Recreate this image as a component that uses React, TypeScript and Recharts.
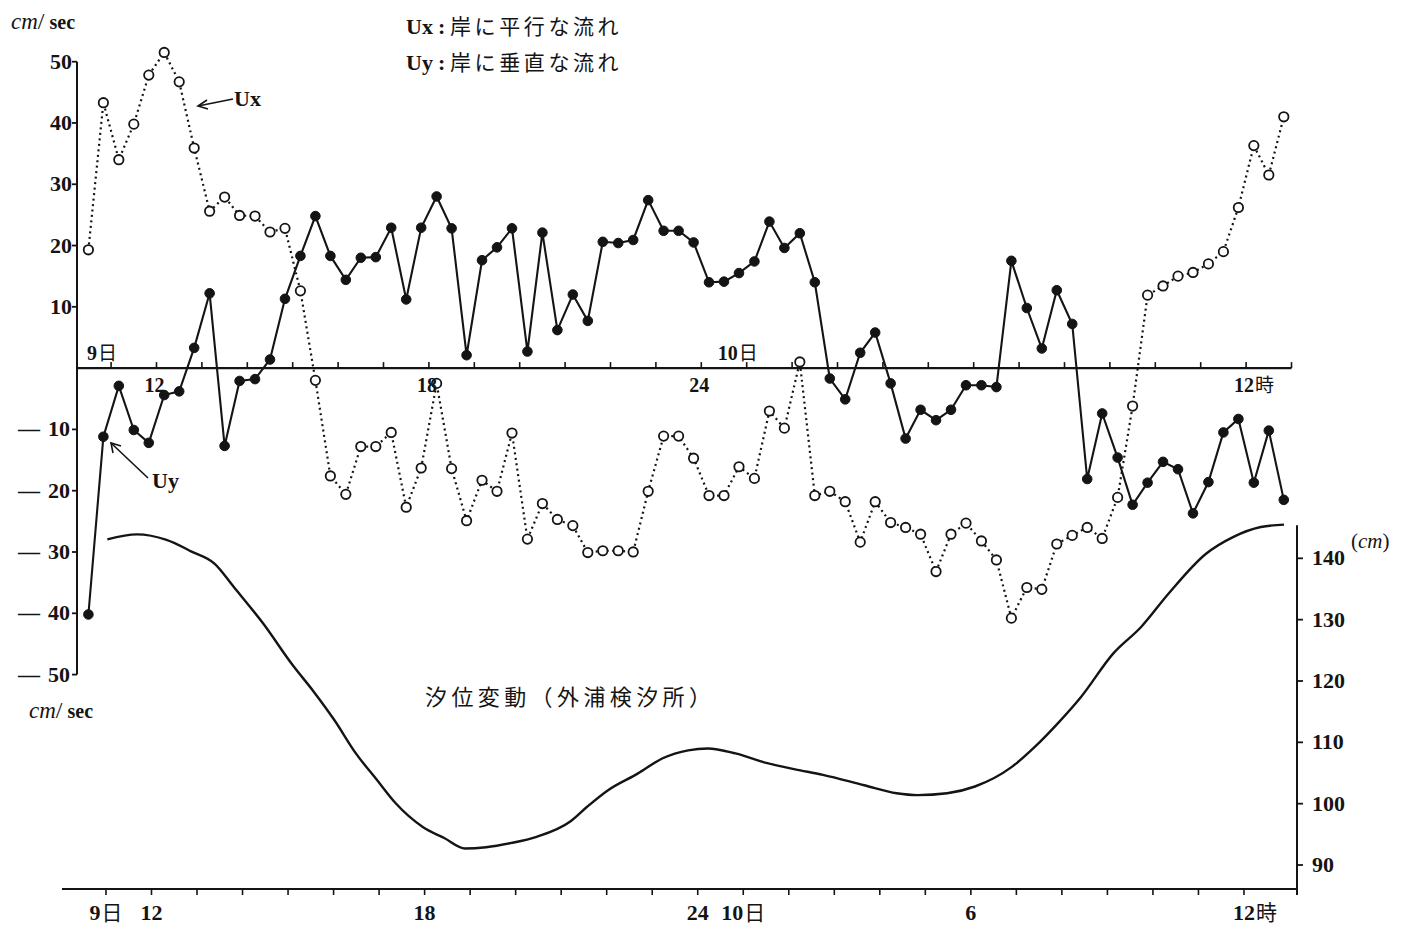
import React from 'react';
import { ComposedChart, LineChart, Line, XAxis, YAxis, ReferenceLine } from 'recharts';

// ---- data ----
const velHours = [10.5, 10.83, 11.17, 11.5, 11.83, 12.17, 12.5, 12.83, 13.17, 13.5, 13.83, 14.17, 14.5, 14.83, 15.17, 15.5, 15.83, 16.17, 16.5, 16.83, 17.17, 17.5, 17.83, 18.17, 18.5, 18.83, 19.17, 19.5, 19.83, 20.17, 20.5, 20.83, 21.17, 21.5, 21.83, 22.17, 22.5, 22.83, 23.17, 23.5, 23.83, 24.17, 24.5, 24.83, 25.17, 25.5, 25.83, 26.17, 26.5, 26.83, 27.17, 27.5, 27.83, 28.17, 28.5, 28.83, 29.17, 29.5, 29.83, 30.17, 30.5, 30.83, 31.17, 31.5, 31.83, 32.17, 32.5, 32.83, 33.17, 33.5, 33.83, 34.17, 34.5, 34.83, 35.17, 35.5, 35.83, 36.17, 36.5, 36.83];

const uxValues = [19.3, 43.3, 34.0, 39.8, 47.8, 51.5, 46.7, 35.9, 25.6, 27.9, 24.9, 24.8, 22.2, 22.8, 12.6, -2.0, -17.6, -20.6, -12.8, -12.8, -10.5, -22.7, -16.3, -2.5, -16.4, -24.9, -18.3, -20.1, -10.6, -27.9, -22.1, -24.7, -25.7, -30.1, -29.8, -29.8, -30.0, -20.1, -11.1, -11.1, -14.7, -20.8, -20.8, -16.1, -18.0, -7.0, -9.8, 1.0, -20.8, -20.1, -21.8, -28.4, -21.8, -25.2, -26.0, -27.1, -33.2, -27.1, -25.3, -28.2, -31.3, -40.8, -35.8, -36.1, -28.7, -27.3, -26.0, -27.8, -21.1, -6.2, 11.9, 13.4, 15.0, 15.6, 17.0, 19.0, 26.2, 36.3, 31.5, 41.0];

const uyValues = [-40.2, -11.2, -2.9, -10.1, -12.2, -4.4, -3.8, 3.3, 12.2, -12.7, -2.1, -1.8, 1.4, 11.3, 18.3, 24.8, 18.3, 14.4, 18.0, 18.1, 22.9, 11.2, 22.9, 28.0, 22.8, 2.1, 17.6, 19.7, 22.8, 2.7, 22.1, 6.2, 12.0, 7.7, 20.6, 20.4, 20.9, 27.4, 22.4, 22.4, 20.5, 14.0, 14.1, 15.5, 17.4, 23.9, 19.6, 22.0, 14.0, -1.7, -5.1, 2.5, 5.8, -2.5, -11.5, -6.8, -8.5, -6.8, -2.8, -2.8, -3.1, 17.5, 9.8, 3.2, 12.7, 7.2, -18.1, -7.4, -14.6, -22.3, -18.7, -15.3, -16.5, -23.7, -18.6, -10.5, -8.3, -18.7, -10.2, -21.5];

const tideHours = [11.03, 11.68, 12.33, 12.88, 13.39, 13.8, 14.45, 15.1, 15.56, 16.02, 16.49, 16.95, 17.36, 17.96, 18.43, 18.89, 19.35, 19.91, 20.46, 21.2, 21.57, 22.03, 22.68, 23.23, 23.79, 24.22, 24.83, 25.53, 26.14, 26.75, 27.66, 28.37, 28.83, 29.48, 30.09, 30.9, 31.41, 31.91, 32.42, 33.13, 33.74, 34.35, 35.16, 35.77, 36.37, 36.88];
const tideLevels = [143.1, 143.9, 143.0, 141.1, 139.1, 135.4, 129.4, 122.6, 118.3, 113.6, 108.2, 103.9, 100.1, 96.2, 94.4, 92.7, 92.9, 93.6, 94.6, 97.1, 99.5, 102.2, 104.9, 107.4, 108.7, 109.0, 108.2, 106.6, 105.6, 104.7, 103.0, 101.7, 101.4, 101.7, 102.8, 106.0, 109.3, 113.1, 117.4, 124.5, 128.8, 134.3, 140.7, 143.5, 145.1, 145.5];

const upperVelTicks = [10, 20, 30, 40, 50];
const lowerVelTicks = [-10, -20, -30, -40, -50];
const tideTicks = [90, 100, 110, 120, 130, 140];
const hourTicks = [11, 12, 13, 14, 15, 16, 17, 18, 19, 20, 21, 22, 23, 24, 25, 26, 27, 28, 29, 30, 31, 32, 33, 34, 35, 36, 37];
const bottomHourTicks = [11, 12, 13, 14, 15, 16, 17, 18, 19, 20, 21, 22, 23, 24, 25, 26, 27, 28, 29, 30, 31, 32, 33, 34, 35, 36];
const zeroAxisLabels: Record<number, string> = { 12: '12', 18: '18', 24: '24', 36: '12時' };
const zeroAxisDates: Record<number, string> = { 11: '9日', 25: '10日' };
const bottomAxisLabels: Record<number, string> = { 11: '9日', 12: '12', 18: '18', 24: '24', 25: '10日', 30: '6', 36: '12時' };

const velData = velHours.map((h, i) => ({ h, ux: uxValues[i], uy: uyValues[i] }));
const tideData = tideHours.map((h, i) => ({ h, t: tideLevels[i] }));

// ---- styling ----
const W = 1403;
const H = 932;
const INK = '#141414';
const SERIF = "'Liberation Serif', 'DejaVu Serif', serif";
const CJK = "'Noto Sans CJK JP', 'Noto Sans CJK SC', sans-serif";

const renderLabel = (label: string, x: number, y: number, size: number, key?: string) => {
  const m = label.match(/^(\d+)(.*)$/);
  const num = m ? m[1] : label;
  const suffix = m ? m[2] : '';
  const isHour = suffix === '時';
  const anchor = isHour ? 'start' : 'middle';
  const tx = isHour ? x - num.length * size * 0.25 : x;
  return (
    <text key={key} x={tx} y={y} textAnchor={anchor} fill={INK} fontSize={size}>
      <tspan fontFamily={SERIF} fontWeight="bold">{num}</tspan>
      {suffix && <tspan fontFamily={CJK} fontSize={size * 0.95} dx={1}>{suffix}</tspan>}
    </text>
  );
};

const ZeroAxisTick = (props: any) => {
  const { x, y, payload } = props;
  const v = payload.value as number;
  const lbl = zeroAxisLabels[v];
  const date = zeroAxisDates[v];
  return (
    <g>
      <line x1={x} y1={y} x2={x} y2={y - 6} stroke={INK} strokeWidth={1.6} />
      {lbl && renderLabel(lbl, x - 2, y + 24, 20)}
      {date && renderLabel(date, x - 9, y - 8, 20)}
    </g>
  );
};

const BottomAxisTick = (props: any) => {
  const { x, y, payload } = props;
  const v = payload.value as number;
  const lbl = bottomAxisLabels[v];
  return (
    <g>
      <line x1={x} y1={y - 6} x2={x} y2={y} stroke={INK} strokeWidth={1.6} />
      {lbl && renderLabel(lbl, x, y + 25, 22)}
    </g>
  );
};

const UpperVelTick = (props: any) => {
  const { x, y, payload } = props;
  return (
    <g>
      <line x1={x - 5} y1={y} x2={x} y2={y} stroke={INK} strokeWidth={1.8} />
      <text x={x - 5} y={y + 7} textAnchor="end" fontFamily={SERIF} fontWeight="bold" fontSize={22} fill={INK}>
        {payload.value}
      </text>
    </g>
  );
};

const LowerVelTick = (props: any) => {
  const { x, y, payload } = props;
  return (
    <g>
      <line x1={x - 5} y1={y} x2={x} y2={y} stroke={INK} strokeWidth={1.8} />
      <text x={18} y={y + 7} textAnchor="start" fontFamily={SERIF} fontWeight="bold" fontSize={22} fill={INK}>—</text>
      <text x={x - 7} y={y + 7} textAnchor="end" fontFamily={SERIF} fontWeight="bold" fontSize={22} fill={INK}>
        {Math.abs(payload.value)}
      </text>
    </g>
  );
};

const TideTick = (props: any) => {
  const { x, y, payload } = props;
  return (
    <g>
      <line x1={x} y1={y} x2={x + 6} y2={y} stroke={INK} strokeWidth={1.8} />
      <text x={x + 15} y={y + 7} textAnchor="start" fontFamily={SERIF} fontWeight="bold" fontSize={22} fill={INK}>
        {payload.value}
      </text>
    </g>
  );
};

const OpenDot = (p: any) => {
  if (p.cx == null || p.cy == null) return <g key={p.key} />;
  return <circle key={p.key} cx={p.cx} cy={p.cy} r={4.7} fill="#fff" stroke={INK} strokeWidth={1.8} />;
};
const FilledDot = (p: any) => {
  if (p.cx == null || p.cy == null) return <g key={p.key} />;
  return <circle key={p.key} cx={p.cx} cy={p.cy} r={4.8} fill={INK} stroke={INK} strokeWidth={1} />;
};

const layer: React.CSSProperties = { position: 'absolute', left: 0, top: 0 };

export default function App() {
  return (
    <div style={{ position: 'absolute', left: 0, top: 0, width: W, height: H, background: '#fff' }}>
      {/* main chart: series, tide axis, bottom time axis */}
      <div style={layer}>
        <ComposedChart width={W} height={H} margin={{ top: 30, right: 0, bottom: 0, left: 62 }}>
          <XAxis xAxisId="v" dataKey="h" type="number" domain={[9.9185, 37.121]} hide />
          <XAxis
            xAxisId="b"
            dataKey="h"
            type="number"
            domain={[10.034, 37.165]}
            ticks={bottomHourTicks}
            interval={0}
            height={43}
            tickSize={6}
            tickMargin={0}
            tickLine={false}
            axisLine={{ stroke: INK, strokeWidth: 2.2 }}
            tick={<BottomAxisTick />}
          />
          <YAxis yAxisId="l" type="number" domain={[-84.99, 55.16]} hide />
          <YAxis
            yAxisId="r"
            orientation="right"
            type="number"
            domain={[86.09, 226.13]}
            ticks={tideTicks}
            interval={0}
            width={106}
            tickSize={0}
            tickMargin={0}
            axisLine={false}
            tickLine={false}
            tick={<TideTick />}
          />
          <ReferenceLine
            xAxisId="b"
            yAxisId="r"
            ifOverflow="visible"
            segment={[{ x: 37.165, y: 145.4 }, { x: 37.165, y: 85.1 }]}
            stroke={INK}
            strokeWidth={2}
          />
          <Line
            xAxisId="b"
            yAxisId="r"
            data={tideData}
            dataKey="t"
            type="monotone"
            stroke={INK}
            strokeWidth={2.4}
            dot={false}
            activeDot={false}
            isAnimationActive={false}
          />
          <Line
            xAxisId="v"
            yAxisId="l"
            data={velData}
            dataKey="ux"
            type="linear"
            stroke={INK}
            strokeWidth={2.2}
            strokeDasharray="2 3.5"
            dot={OpenDot}
            activeDot={false}
            isAnimationActive={false}
          />
          <Line
            xAxisId="v"
            yAxisId="l"
            data={velData}
            dataKey="uy"
            type="linear"
            stroke={INK}
            strokeWidth={2.1}
            dot={FilledDot}
            activeDot={false}
            isAnimationActive={false}
          />
        </ComposedChart>
      </div>

      {/* upper half of the velocity axis and the zero-line time axis */}
      <div style={{ ...layer, pointerEvents: 'none' }}>
        <LineChart width={W} height={H} data={velData} margin={{ top: 61.7, right: 111.5, bottom: 523.9, left: 0 }}>
          <XAxis
            dataKey="h"
            type="number"
            domain={[10.249, 37]}
            allowDataOverflow
            ticks={hourTicks}
            interval={0}
            height={40}
            tickSize={0}
            tickMargin={0}
            tickLine={false}
            axisLine={{ stroke: INK, strokeWidth: 2.2 }}
            tick={<ZeroAxisTick />}
          />
          <YAxis
            type="number"
            domain={[0, 50]}
            allowDataOverflow
            ticks={upperVelTicks}
            interval={0}
            width={77}
            tickSize={0}
            tickMargin={0}
            tickLine={false}
            axisLine={{ stroke: INK, strokeWidth: 2 }}
            tick={<UpperVelTick />}
          />
          <Line dataKey="ux" stroke="none" dot={false} activeDot={false} isAnimationActive={false} />
        </LineChart>
      </div>

      {/* lower half of the velocity axis */}
      <div style={{ ...layer, pointerEvents: 'none' }}>
        <LineChart width={W} height={H} data={velData} margin={{ top: 368.1, right: 111.5, bottom: 257.4, left: 0 }}>
          <XAxis dataKey="h" type="number" domain={[10.249, 37]} allowDataOverflow hide />
          <YAxis
            type="number"
            domain={[-50, 0]}
            allowDataOverflow
            ticks={lowerVelTicks}
            interval={0}
            width={77}
            tickSize={0}
            tickMargin={0}
            tickLine={false}
            axisLine={{ stroke: INK, strokeWidth: 2 }}
            tick={<LowerVelTick />}
          />
          <Line dataKey="uy" stroke="none" dot={false} activeDot={false} isAnimationActive={false} />
        </LineChart>
      </div>

      {/* titles, units and annotations */}
      <svg width={W} height={H} style={{ ...layer, pointerEvents: 'none' }}>
        <text x={11} y={29} fill={INK}>
          <tspan fontFamily={SERIF} fontStyle="italic" fontSize={23}>cm</tspan>
          <tspan fontFamily={SERIF} fontSize={24}>/</tspan>
          <tspan fontFamily={SERIF} fontWeight="bold" fontSize={20} dx={5}>sec</tspan>
        </text>
        <text x={29} y={718} fill={INK}>
          <tspan fontFamily={SERIF} fontStyle="italic" fontSize={23}>cm</tspan>
          <tspan fontFamily={SERIF} fontSize={24}>/</tspan>
          <tspan fontFamily={SERIF} fontWeight="bold" fontSize={20} dx={5}>sec</tspan>
        </text>
        <text x={1351} y={548} fill={INK} fontFamily={SERIF} fontSize={21}>
          (<tspan fontStyle="italic">cm</tspan>)
        </text>

        <text x={406} y={34} fill={INK} fontFamily={SERIF} fontWeight="bold" fontSize={22}>Ux</text>
        <text x={438} y={34} fill={INK} fontFamily={SERIF} fontWeight="bold" fontSize={22}>:</text>
        <text x={450} y={34} fill={INK} fontFamily={CJK} fontSize={21} letterSpacing={3.6}>岸に平行な流れ</text>
        <text x={406} y={70} fill={INK} fontFamily={SERIF} fontWeight="bold" fontSize={22}>Uy</text>
        <text x={438} y={70} fill={INK} fontFamily={SERIF} fontWeight="bold" fontSize={22}>:</text>
        <text x={450} y={70} fill={INK} fontFamily={CJK} fontSize={21} letterSpacing={3.6}>岸に垂直な流れ</text>

        <text x={425} y={705} fill={INK} fontFamily={CJK} fontSize={22} letterSpacing={4.4}>汐位変動（外浦検汐所）</text>

        <text x={234} y={106} fill={INK} fontFamily={SERIF} fontWeight="bold" fontSize={22}>Ux</text>
        <line x1={233} y1={99} x2={198} y2={106} stroke={INK} strokeWidth={1.6} />
        <polyline points="207,100 198,106 208,109" fill="none" stroke={INK} strokeWidth={1.6} />
        <text x={152} y={488} fill={INK} fontFamily={SERIF} fontWeight="bold" fontSize={22}>Uy</text>
        <line x1={148} y1={478} x2={111} y2={443} stroke={INK} strokeWidth={1.6} />
        <polyline points="113,453 111,443 121,446" fill="none" stroke={INK} strokeWidth={1.6} />
      </svg>
    </div>
  );
}
